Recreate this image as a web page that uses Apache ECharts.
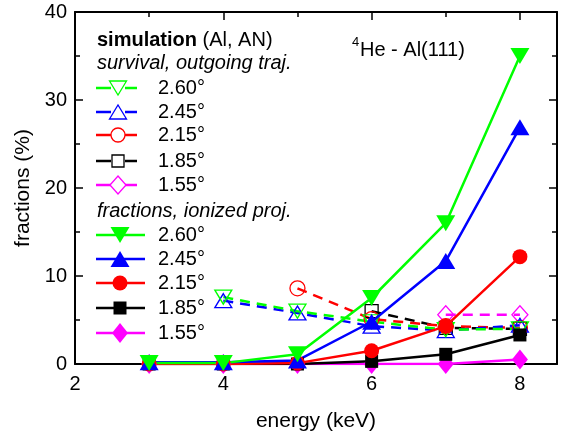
<!DOCTYPE html>
<html><head><meta charset="utf-8">
<script src="https://cdn.jsdelivr.net/npm/echarts@6/dist/echarts.min.js"></script>
<style>html,body{margin:0;padding:0;background:#fff}#c{width:567px;height:437px}</style>
</head><body><div id="c"></div>
<script>
// ---- data ----
const energyIon = [3, 4, 5, 6, 7, 8];
const ion260 = [0.1, 0.1, 1.1, 7.5, 16.0, 35.0];
const ion245 = [0.2, 0.2, 0.4, 4.8, 11.7, 26.9];
const ion215 = [0.0, 0.0, 0.1, 1.5, 4.3, 12.2];
const ion185 = [0.0, 0.0, 0.0, 0.3, 1.1, 3.3];
const ion155 = [0.0, 0.0, 0.0, 0.0, 0.0, 0.5];

const energySurv260 = [4, 5, 6, 7, 8];
const surv260 = [7.6, 6.0, 4.8, 3.9, 4.0];
const energySurv245 = [4, 5, 6, 7, 8];
const surv245 = [7.2, 5.8, 4.3, 3.8, 4.4];
const energySurv215 = [5, 6, 7, 8];
const surv215 = [8.6, 5.1, 4.3, 4.1];
const energySurv185 = [6, 7, 8];
const surv185 = [6.0, 4.1, 4.0];
const energySurv155 = [7, 8];
const surv155 = [5.6, 5.6];

const xTicks = [2, 4, 6, 8];
const yTicks = [0, 10, 20, 30, 40];
const angleLabels = ['2.60°', '2.45°', '2.15°', '1.85°', '1.55°'];

const GREEN = '#00ff00', BLUE = '#0000ff', RED = '#ff0000', BLACK = '#000000', MAG = '#ff00ff';
const colors = [GREEN, BLUE, RED, BLACK, MAG];

const pair = (xs, ys) => xs.map((x, i) => [x, ys[i]]);
const FONT = 'Liberation Sans, Arial, sans-serif';
const LW = 2.5;

function survSeries(xs, ys, color, symbol, size, rot) {
  return {
    type: 'line', data: pair(xs, ys), symbol: symbol, symbolSize: size, symbolRotate: rot || 0,
    lineStyle: { color: color, width: LW, type: [10, 7] },
    itemStyle: { color: 'rgba(0,0,0,0)', borderColor: color, borderWidth: 1.3 },
    z: 3, animation: false
  };
}
function ionSeries(xs, ys, color, symbol, size, rot) {
  return {
    type: 'line', data: pair(xs, ys), symbol: symbol, symbolSize: size, symbolRotate: rot || 0,
    lineStyle: { color: color, width: LW },
    itemStyle: { color: color, borderWidth: 0 },
    z: 4, animation: false
  };
}

const series = [
  ionSeries(energyIon, ion155, MAG, 'diamond', [16, 20]),
  ionSeries(energyIon, ion185, BLACK, 'rect', 13),
  ionSeries(energyIon, ion215, RED, 'circle', 15),
  ionSeries(energyIon, ion245, BLUE, 'triangle', [19, 16]),
  ionSeries(energyIon, ion260, GREEN, 'triangle', [19, 16], 180),
  survSeries(energySurv155, surv155, MAG, 'diamond', [16, 18]),
  survSeries(energySurv185, surv185, BLACK, 'rect', 13),
  survSeries(energySurv215, surv215, RED, 'circle', 15),
  survSeries(energySurv245, surv245, BLUE, 'triangle', [17, 14]),
  survSeries(energySurv260, surv260, GREEN, 'triangle', [17, 14], 180),
];

// ---- legend drawn as graphics ----
const graphics = [];
const lx0 = 96, lx1 = 137, lmx = 118, ltx = 158;
function legendRow(y, color, kind, filled, label) {
  if (filled) {
    graphics.push({ type: 'line', shape: { x1: lx0, y1: y, x2: lx1 + 8, y2: y }, style: { stroke: color, lineWidth: LW } });
  } else {
    graphics.push({ type: 'line', shape: { x1: lx0, y1: y, x2: lmx - 7, y2: y }, style: { stroke: color, lineWidth: LW } });
    graphics.push({ type: 'line', shape: { x1: lmx + 7, y1: y, x2: lx1, y2: y }, style: { stroke: color, lineWidth: LW } });
  }
  const st = filled ? { fill: color, stroke: null } : { fill: '#fff', stroke: color, lineWidth: 1.3 };
  const cx = filled ? 120 : lmx;
  if (kind === 'down') {
    const w = filled ? 9.5 : 8.5, h = filled ? 8 : 7;
    graphics.push({ type: 'polygon', shape: { points: [[cx - w, y - h], [cx + w, y - h], [cx, y + h]] }, style: st });
  } else if (kind === 'up') {
    const w = filled ? 9.5 : 8.5, h = filled ? 8 : 7;
    graphics.push({ type: 'polygon', shape: { points: [[cx - w, y + h], [cx + w, y + h], [cx, y - h]] }, style: st });
  } else if (kind === 'circle') {
    graphics.push({ type: 'circle', shape: { cx: cx, cy: y, r: filled ? 7.5 : 7 }, style: st });
  } else if (kind === 'square') {
    const s = filled ? 6.5 : 6;
    graphics.push({ type: 'rect', shape: { x: cx - s, y: y - s, width: 2 * s, height: 2 * s }, style: st });
  } else if (kind === 'diamond') {
    const w = 8, h = filled ? 10 : 9;
    graphics.push({ type: 'polygon', shape: { points: [[cx, y - h], [cx + w, y], [cx, y + h], [cx - w, y]] }, style: st });
  }
  graphics.push({ type: 'text', x: ltx, y: y, style: { text: label, font: '20px ' + FONT, fill: '#000', textVerticalAlign: 'middle', verticalAlign: 'middle' } });
}
const kinds = ['down', 'up', 'circle', 'square', 'diamond'];
const survY = [88, 112, 135, 161, 185];
const ionY = [235, 259, 283, 308, 333];
for (let i = 0; i < 5; i++) legendRow(survY[i], colors[i], kinds[i], false, angleLabels[i]);
for (let i = 0; i < 5; i++) legendRow(ionY[i], colors[i], kinds[i], true, angleLabels[i]);

graphics.push({ type: 'text', x: 97, y: 40, style: { rich: { b: { font: 'bold 20px ' + FONT, fill: '#000' }, n: { font: '20px ' + FONT, fill: '#000' } }, text: '{b|simulation}{n| (Al, AN)}', verticalAlign: 'middle', textVerticalAlign: 'middle' } });
graphics.push({ type: 'text', x: 97, y: 63, style: { text: 'survival, outgoing traj.', font: 'italic 20px ' + FONT, fill: '#000', verticalAlign: 'middle', textVerticalAlign: 'middle' } });
graphics.push({ type: 'text', x: 97, y: 211, style: { text: 'fractions, ionized proj.', font: 'italic 20px ' + FONT, fill: '#000', verticalAlign: 'middle', textVerticalAlign: 'middle' } });
graphics.push({ type: 'text', x: 352, y: 42, style: { text: '4', font: '13px ' + FONT, fill: '#000', verticalAlign: 'middle', textVerticalAlign: 'middle' } });
graphics.push({ type: 'text', x: 360, y: 50, style: { text: 'He - Al(111)', font: '20px ' + FONT, fill: '#000', verticalAlign: 'middle', textVerticalAlign: 'middle' } });

const axisCommon = {
  axisLine: { show: true, onZero: false, lineStyle: { color: '#000', width: 2 } },
  axisTick: { show: true, inside: true, length: 8, lineStyle: { color: '#000', width: 1.5 } },
  minorTick: { show: true, splitNumber: 2, length: 5, lineStyle: { color: '#000', width: 1.5 } },
  splitLine: { show: false },
};

const option = {
  backgroundColor: '#fff',
  animation: false,
  grid: { left: 75, right: 10, top: 12, bottom: 69, containLabel: false },
  xAxis: [
    Object.assign({
      type: 'value', min: 2, max: 8.5, interval: 2, position: 'bottom',
      name: 'energy (keV)', nameLocation: 'middle', nameGap: 47,
      nameTextStyle: { fontSize: 21, fontFamily: FONT, color: '#000' },
      axisLabel: { fontSize: 20, fontFamily: FONT, color: '#000', margin: 10,
        formatter: v => (xTicks.indexOf(v) >= 0 ? String(v) : '') }
    }, axisCommon),
    Object.assign({
      type: 'value', min: 2, max: 8.5, interval: 2, position: 'top',
      axisLabel: { show: false }
    }, axisCommon)
  ],
  yAxis: [
    Object.assign({
      type: 'value', min: 0, max: 40, interval: 10, position: 'left',
      name: 'fractions (%)', nameLocation: 'middle', nameGap: 35,
      nameTextStyle: { fontSize: 21, fontFamily: FONT, color: '#000' },
      axisLabel: { fontSize: 20, fontFamily: FONT, color: '#000', margin: 8,
        formatter: v => (yTicks.indexOf(v) >= 0 ? String(v) : '') }
    }, axisCommon),
    Object.assign({
      type: 'value', min: 0, max: 40, interval: 10, position: 'right',
      axisLabel: { show: false }
    }, axisCommon)
  ],
  series: series,
  graphic: graphics
};

const chart = echarts.init(document.getElementById('c'), null, { renderer: 'canvas' });
chart.setOption(option);
</script></body></html>
